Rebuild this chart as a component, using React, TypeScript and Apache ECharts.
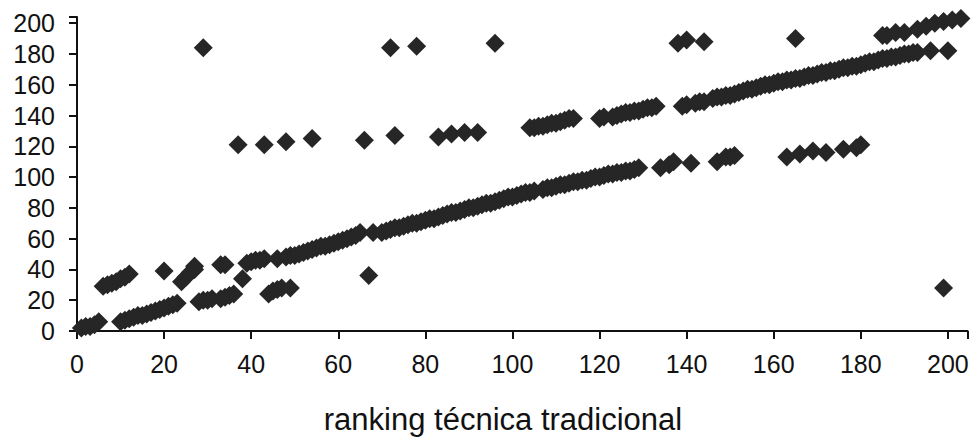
import React, { useEffect, useRef } from "react";
import * as echarts from "echarts";

// Tick labels
const xTicks = [0, 20, 40, 60, 80, 100, 120, 140, 160, 180, 200];
const yTicks = [0, 20, 40, 60, 80, 100, 120, 140, 160, 180, 200];
const xAxisTitle = "ranking técnica tradicional";

// Point groups [x, y]
const startDiagonal = [[1, 2], [2, 3], [3, 3], [4, 4], [5, 6]];
const earlyUpper = [[6, 29], [7, 30], [8, 31], [9, 32], [10, 34], [11, 35], [12, 37]];
const earlyLower = [
  [10, 6], [11, 7], [12, 8], [13, 9], [14, 10], [15, 10], [16, 11], [17, 12],
  [18, 13], [19, 14], [20, 15], [21, 16], [22, 17], [23, 18],
];
const earlyMid = [
  [20, 39], [24, 32], [25, 35], [26, 38], [27, 40], [27, 42], [33, 43], [34, 43], [38, 34],
];
const secondLower = [
  [28, 19], [29, 20], [30, 20], [31, 21], [33, 21], [34, 22], [35, 23], [36, 24],
  [44, 24], [45, 26], [46, 27], [47, 28], [49, 28],
];
const mainLine = [
  [39, 44], [40, 45], [41, 46], [42, 46], [43, 47], [46, 47],
  [48, 48], [49, 49], [50, 49], [51, 50], [52, 51], [53, 52], [54, 53], [55, 54],
  [56, 55], [57, 55], [58, 56], [59, 57], [60, 58], [61, 59], [62, 60], [63, 61],
  [64, 62], [65, 64], [68, 64], [70, 64], [71, 65], [72, 66], [73, 67], [74, 67],
  [75, 68], [76, 69], [77, 70], [78, 70], [79, 71], [80, 72], [81, 73], [82, 73],
  [83, 74], [84, 75], [85, 76], [86, 77], [87, 77], [88, 78], [89, 79], [90, 80],
  [91, 80], [92, 81], [93, 82], [94, 83], [95, 83], [96, 84], [97, 85], [98, 86],
  [99, 87], [100, 87], [101, 88], [102, 89], [103, 90], [104, 90], [105, 91],
  [107, 92], [108, 93], [109, 93], [110, 94], [111, 95], [112, 95], [113, 96],
  [114, 97], [115, 97], [116, 98], [117, 98], [118, 99], [119, 100], [120, 100],
  [121, 101], [122, 102], [123, 102], [124, 103], [125, 103], [126, 104],
  [127, 104], [128, 105], [129, 106], [134, 106], [136, 108], [137, 110],
  [141, 109], [147, 110], [149, 113], [150, 113], [151, 114],
];
const lowerBranch = [
  [163, 113], [166, 115], [169, 117], [172, 116], [176, 118], [179, 119], [180, 121],
];
const middleRow = [
  [37, 121], [43, 121], [48, 123], [54, 125], [66, 124], [73, 127],
  [83, 126], [86, 128], [89, 129], [92, 129],
];
const upperLine = [
  [104, 132], [105, 132], [106, 133], [107, 133], [108, 134], [109, 135],
  [110, 135], [111, 136], [112, 137], [113, 138], [114, 138],
  [120, 138], [121, 139], [123, 139], [124, 140], [125, 141], [126, 142],
  [127, 142], [128, 143], [129, 143], [130, 144], [131, 145], [132, 145], [133, 146],
  [139, 146], [140, 147], [142, 148], [143, 149], [144, 149], [146, 151],
  [147, 152], [148, 152], [149, 153], [150, 153], [151, 154], [152, 155],
  [153, 156], [154, 157], [155, 157], [156, 158], [157, 159], [158, 160],
  [159, 160], [160, 161], [161, 162], [162, 162], [163, 163], [164, 163],
  [165, 164], [166, 164], [167, 165], [168, 166], [169, 166], [170, 167],
  [171, 168], [172, 168], [173, 169], [174, 169], [175, 170], [176, 171],
  [177, 171], [178, 172], [179, 172], [180, 173], [181, 174], [182, 175],
  [183, 175], [184, 176], [185, 177], [186, 177], [187, 178], [188, 178],
  [189, 179], [190, 180], [191, 180], [192, 181], [193, 181], [196, 182], [200, 182],
];
const topLine = [
  [185, 192], [186, 192], [188, 194], [190, 194], [193, 196], [195, 198],
  [197, 200], [199, 201], [201, 202], [203, 203],
];
const highOutliers = [
  [29, 184], [72, 184], [78, 185], [96, 187], [138, 187], [140, 189], [144, 188], [165, 190],
];
const lowOutliers = [[67, 36], [199, 28]];

export default function App() {
  const ref = useRef<HTMLDivElement>(null);
  useEffect(() => {
    if (!ref.current) return;
    const chart = echarts.init(ref.current, undefined, { renderer: "svg" });
    const data = [
      ...startDiagonal, ...earlyUpper, ...earlyLower, ...earlyMid, ...secondLower,
      ...mainLine, ...lowerBranch, ...middleRow, ...upperLine, ...topLine,
      ...highOutliers, ...lowOutliers,
    ];
    const font = "'Liberation Sans', Arial, sans-serif";
    chart.setOption({
      animation: false,
      backgroundColor: "#ffffff",
      grid: { left: 77, right: 5.5, top: 17, bottom: 109, containLabel: false },
      xAxis: {
        type: "value",
        min: 0,
        max: 204.5,
        interval: 20,
        axisLine: { show: true, lineStyle: { color: "#111", width: 2 } },
        axisTick: { show: true, inside: false, length: 8, lineStyle: { color: "#111", width: 2 } },
        splitLine: { show: false },
        axisLabel: {
          margin: 20,
          color: "#111",
          fontSize: 25,
          fontFamily: font,
          formatter: (v: number) => (xTicks.includes(v) ? String(v) : ""),
        },
      },
      yAxis: {
        type: "value",
        min: 0,
        max: 204,
        interval: 20,
        axisLine: { show: true, lineStyle: { color: "#111", width: 2 } },
        axisTick: { show: true, inside: false, length: 8, lineStyle: { color: "#111", width: 2 } },
        splitLine: { show: false },
        axisLabel: {
          margin: 22,
          color: "#111",
          fontSize: 25,
          fontFamily: font,
          formatter: (v: number) => (yTicks.includes(v) ? String(v) : ""),
        },
      },
      graphic: [
        {
          type: "text",
          x: 503,
          y: 419,
          style: {
            text: xAxisTitle,
            fill: "#111",
            font: `31px ${font}`,
            textAlign: "center",
            textVerticalAlign: "middle",
          },
        },
      ],
      series: [
        {
          type: "scatter",
          symbol: "diamond",
          symbolSize: 19,
          itemStyle: { color: "#262626", opacity: 1 },
          data,
        },
      ],
    });
    return () => chart.dispose();
  }, []);
  return (
    <div
      ref={ref}
      style={{ position: "fixed", left: 0, top: 0, width: 973, height: 440 }}
    />
  );
}
